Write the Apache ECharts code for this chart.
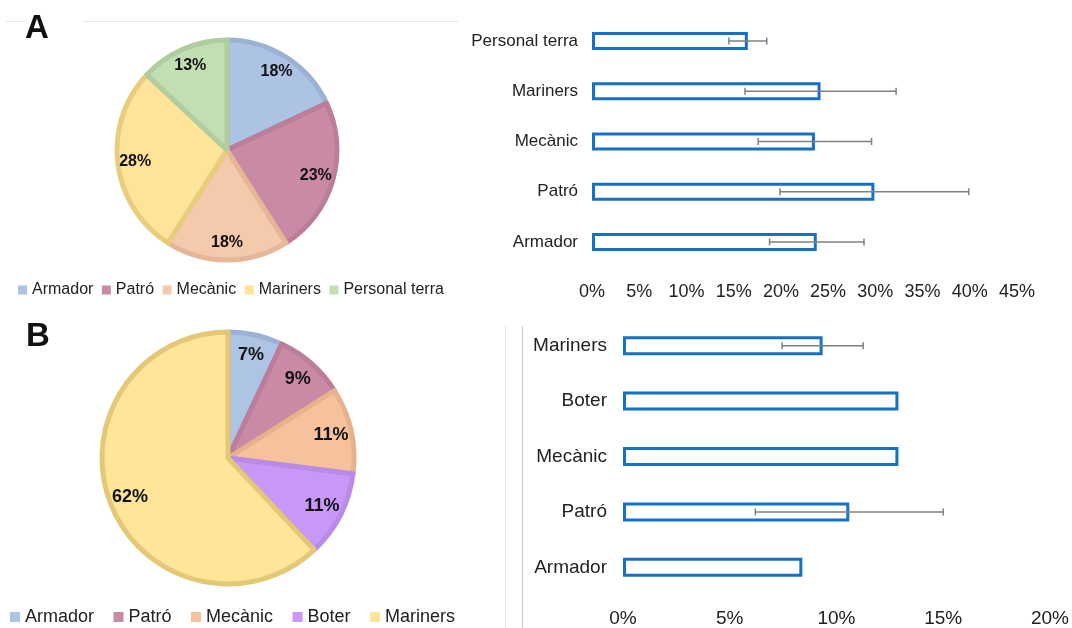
<!DOCTYPE html>
<html><head><meta charset="utf-8">
<script src="https://cdn.jsdelivr.net/npm/echarts@6/dist/echarts.min.js"></script>
<style>html,body{margin:0;padding:0;background:#fff}#c{width:1072px;height:628px}</style>
</head><body><div id="c"></div>
<script>
// ---- data ----
const pieACategories = ['Armador', 'Patró', 'Mecànic', 'Mariners', 'Personal terra'];
const pieAValues = [18, 23, 18, 28, 13];
const pieBCategories = ['Armador', 'Patró', 'Mecànic', 'Boter', 'Mariners'];
const pieBValues = [7, 9, 11, 11, 62];
const barACategories = ['Armador', 'Patró', 'Mecànic', 'Mariners', 'Personal terra'];
const barAValues = [23.8, 29.9, 23.6, 24.2, 16.5];
const barAErrors = [5, 10, 6, 8, 2];
const barBCategories = ['Armador', 'Patró', 'Mecànic', 'Boter', 'Mariners'];
const barBValues = [8.4, 10.6, 12.9, 12.9, 9.35];
const barBErrors = [0, 4.4, 0, 0, 1.9];
const barAMax = 45, barAInterval = 5;
const barBMax = 20, barBInterval = 5;

// ---- styles ----
const FONT = 'Liberation Sans, Arial, Helvetica, sans-serif';
const pieAFill = ['#adc3e4', '#c98aa6', '#f5c9ab', '#fee499', '#c4deb4'];
const pieABorder = ['#9cb1d4', '#bb7d99', '#e6b797', '#e8cd7c', '#afcd9f'];
const pieBFill = ['#aec4e4', '#c98aa6', '#f5c29d', '#c897f7', '#fee597'];
const pieBBorder = ['#9cb1d4', '#bb7d99', '#e6b28d', '#b98ae6', '#e4c878'];
const BAR_BLUE = '#1570c8';

function pieData(names, vals, fills, borders) {
  return names.map((n, i) => ({ name: n, value: vals[i],
    itemStyle: { color: fills[i], borderColor: borders[i] } }));
}
function labelData(names, vals) {
  return names.map((n, i) => ({ name: n, value: vals[i] }));
}
function legendData(names, fills) {
  return names.map((n, i) => ({ name: n, icon: 'rect',
    itemStyle: { color: fills[i], borderWidth: 0 } }));
}
function errRender(params, api) {
  const v = api.value(0), c = api.value(1), e = api.value(2);
  if (!e) return null;
  const lo = api.coord([v - e, c]), hi = api.coord([v + e, c]);
  const h = 3.5;
  const style = { stroke: '#808080', lineWidth: 1.5 };
  return { type: 'group', children: [
    { type: 'line', shape: { x1: lo[0], y1: lo[1], x2: hi[0], y2: hi[1] }, style },
    { type: 'line', shape: { x1: lo[0], y1: lo[1] - h, x2: lo[0], y2: lo[1] + h }, style },
    { type: 'line', shape: { x1: hi[0], y1: hi[1] - h, x2: hi[0], y2: hi[1] + h }, style }
  ] };
}

const chart = echarts.init(document.getElementById('c'));
const option = {
  animation: false,
  backgroundColor: '#fff',
  textStyle: { fontFamily: FONT },
  legend: [
    { left: 18, top: 282, padding: 0, itemWidth: 9, itemHeight: 9, itemGap: 8.5, selectedMode: false,
      textStyle: { fontSize: 16, color: '#222', fontFamily: FONT },
      data: legendData(pieACategories, pieAFill) },
    { left: 10, top: 608, padding: 0, itemWidth: 10, itemHeight: 10, itemGap: 19.5, selectedMode: false,
      textStyle: { fontSize: 18, color: '#222', fontFamily: FONT },
      data: legendData(pieBCategories, pieBFill) }
  ],
  grid: [
    { left: 592, top: 16, width: 425, height: 251 },
    { left: 623, top: 318, width: 427, height: 279 }
  ],
  xAxis: [
    { gridIndex: 0, type: 'value', min: 0, max: barAMax, interval: barAInterval,
      axisLine: { show: false }, axisTick: { show: false }, splitLine: { show: false },
      axisLabel: { formatter: '{value}%', fontSize: 18, color: '#222', margin: 16 } },
    { gridIndex: 1, type: 'value', min: 0, max: barBMax, interval: barBInterval,
      axisLine: { show: false }, axisTick: { show: false }, splitLine: { show: false },
      axisLabel: { formatter: '{value}%', fontSize: 19, color: '#222', margin: 14 } }
  ],
  yAxis: [
    { gridIndex: 0, type: 'category', data: barACategories,
      axisLine: { show: false }, axisTick: { show: false },
      axisLabel: { fontSize: 17, color: '#222', margin: 14 } },
    { gridIndex: 1, type: 'category', data: barBCategories,
      axisLine: { show: false }, axisTick: { show: false },
      axisLabel: { fontSize: 19, color: '#222', margin: 16 } }
  ],
  series: [
    { type: 'pie', center: [227, 150], radius: 110, startAngle: 90, clockwise: true,
      silent: true, label: { show: false }, labelLine: { show: false },
      itemStyle: { borderWidth: 5 },
      data: pieData(pieACategories, pieAValues, pieAFill, pieABorder) },
    { type: 'pie', center: [227, 150], radius: [67, 112], startAngle: 90, clockwise: true,
      silent: true, legendHoverLink: false,
      itemStyle: { color: 'rgba(0,0,0,0)', borderWidth: 0 },
      label: { show: true, position: 'inside', formatter: '{c}%', fontSize: 16,
        fontWeight: 'bold', color: '#111', fontFamily: FONT },
      labelLine: { show: false },
      data: labelData(pieACategories, pieAValues) },
    { type: 'pie', center: [228, 458], radius: 126, startAngle: 90, clockwise: true,
      silent: true, label: { show: false }, labelLine: { show: false },
      itemStyle: { borderWidth: 5 },
      data: pieData(pieBCategories, pieBValues, pieBFill, pieBBorder) },
    { type: 'pie', center: [228, 458], radius: [77, 128], startAngle: 90, clockwise: true,
      silent: true, legendHoverLink: false,
      itemStyle: { color: 'rgba(0,0,0,0)', borderWidth: 0 },
      label: { show: true, position: 'inside', formatter: '{c}%', fontSize: 18,
        fontWeight: 'bold', color: '#111', fontFamily: FONT },
      labelLine: { show: false },
      data: labelData(pieBCategories, pieBValues) },
    { type: 'bar', xAxisIndex: 0, yAxisIndex: 0, barWidth: 18, silent: true,
      itemStyle: { color: '#fff', borderColor: BAR_BLUE, borderWidth: 3 },
      data: barAValues },
    { type: 'custom', xAxisIndex: 0, yAxisIndex: 0, silent: true, z: 5,
      renderItem: errRender, encode: { x: 0, y: 1 },
      data: barAValues.map((v, i) => [v, i, barAErrors[i]]) },
    { type: 'bar', xAxisIndex: 1, yAxisIndex: 1, barWidth: 19, silent: true,
      itemStyle: { color: '#fff', borderColor: BAR_BLUE, borderWidth: 3 },
      data: barBValues },
    { type: 'custom', xAxisIndex: 1, yAxisIndex: 1, silent: true, z: 5,
      renderItem: errRender, encode: { x: 0, y: 1 },
      data: barBValues.map((v, i) => [v, i, barBErrors[i]]) }
  ],
  graphic: [
    { type: 'line', shape: { x1: 6, y1: 21.5, x2: 25, y2: 21.5 }, style: { stroke: '#e6e6e6', lineWidth: 1 } },
    { type: 'line', shape: { x1: 83, y1: 21.5, x2: 458, y2: 21.5 }, style: { stroke: '#e6e6e6', lineWidth: 1 } },
    { type: 'line', shape: { x1: 505.5, y1: 326, x2: 505.5, y2: 628 }, style: { stroke: '#e4e4e4', lineWidth: 1 } },
    { type: 'line', shape: { x1: 522.5, y1: 326, x2: 522.5, y2: 628 }, style: { stroke: '#c8c8c8', lineWidth: 1 } },
    { type: 'text', left: 25, top: 12, style: { text: 'A', font: 'bold 33px ' + FONT, fill: '#111' } },
    { type: 'text', left: 26, top: 320, style: { text: 'B', font: 'bold 33px ' + FONT, fill: '#111' } }
  ]
};
chart.setOption(option);
</script>
</body></html>
